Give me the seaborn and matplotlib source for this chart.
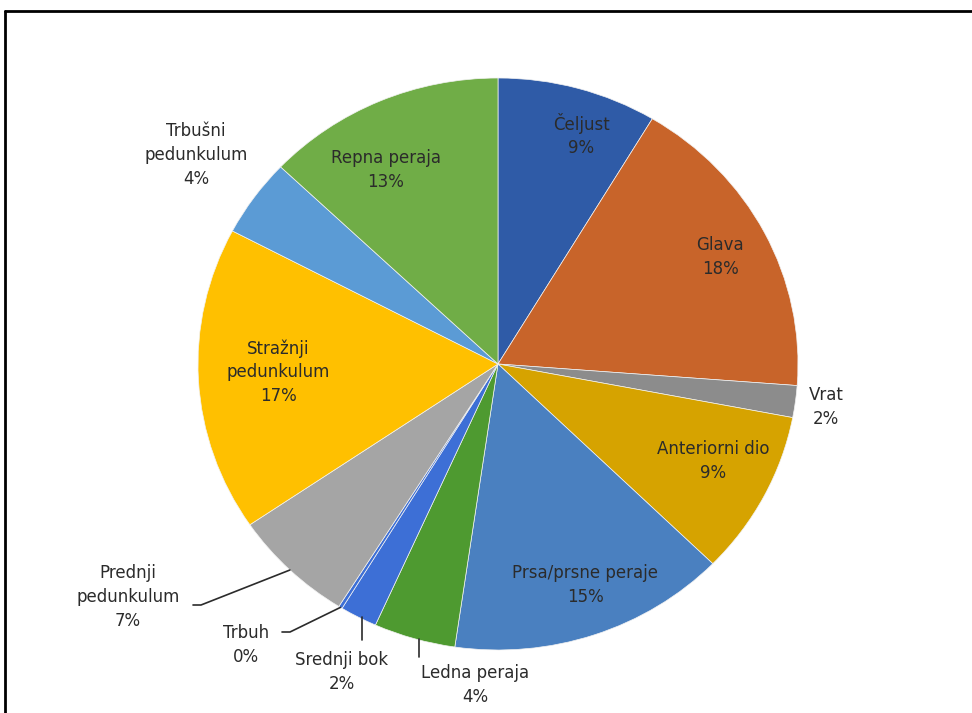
import numpy as np
import matplotlib.pyplot as plt
import seaborn as sns
from matplotlib.lines import Line2D

sns.set_theme(style='white')
plt.rcParams['font.family'] = ['DejaVu Sans']

# data, clockwise from 12 o'clock
parts = ['Čeljust', 'Glava', 'Vrat', 'Anteriorni dio', 'Prsa/prsne peraje',
         'Ledna peraja', 'Srednji bok', 'Trbuh', 'Prednji\npedunkulum',
         'Stražnji\npedunkulum', 'Trbušni\npedunkulum', 'Repna peraja']
shares = [8.6, 17.6, 1.8, 9.3, 15.0, 4.4, 2.0, 0.2, 6.6, 17.2, 4.4, 12.9]
colors = ['#2F5BA7', '#C8642A', '#8C8C8C', '#D6A300', '#4A80C0', '#4E9A30',
          '#3D6FD6', '#3D6FD6', '#A5A5A5', '#FFC000', '#5B9BD5', '#70AD47']

# label centres in pixels of the 972x713 image
label_px = [(581, 135), (720, 257), (826, 407), (713, 461), (585, 585),
            (475, 685), (342, 672), (246, 645), (128, 597), (278, 372),
            (196, 155), (386, 170)]
# leader line start points (pixels)
leader_px = {5: (419, 657), 6: (362, 640), 7: (282, 632), 8: (193, 605)}

W, H = 972, 713
cx, cy, rx, ry = 498, 364, 300, 286

fig = plt.figure(figsize=(W / 100, H / 100), dpi=100)
ax = fig.add_axes([(cx - rx) / W, (H - cy - ry) / H, 2 * rx / W, 2 * ry / H])

wedges, _ = ax.pie(shares, colors=colors, startangle=90, counterclock=False,
                   radius=1, wedgeprops=dict(edgecolor='#f2f2f2', linewidth=0.5))
ax.set_aspect('auto')
ax.set_xlim(-1, 1)
ax.set_ylim(-1, 1)
ax.axis('off')


def to_ax(px, py):
    return (px - cx) / rx, (cy - py) / ry


total = sum(shares)
cum = np.cumsum([0] + shares)
for i, (name, val) in enumerate(zip(parts, shares)):
    u, v = to_ax(*label_px[i])
    ax.text(u, v, f'{name}\n{round(val / total * 100):.0f}%', ha='center', va='center',
            fontsize=12, color='#2b2b2b', linespacing=1.4, clip_on=False)
    if i in leader_px:
        mid = np.deg2rad((cum[i] + cum[i + 1]) / 2 / total * 360)
        eu, ev = np.sin(mid), np.cos(mid)
        su, sv = to_ax(*leader_px[i])
        if i in (7, 8):
            ku = su + 8 / rx
            ax.plot([su, ku, eu], [sv, sv, ev], color='#2b2b2b', lw=1.2, clip_on=False)
        else:
            ax.plot([su, su], [sv, ev], color='#2b2b2b', lw=1.2, clip_on=False)

# chart frame (top and left edges visible)
fig.add_artist(Line2D([5 / W, 5 / W], [0, 1 - 11 / H], color='black', lw=2))
fig.add_artist(Line2D([5 / W, 1], [1 - 11 / H, 1 - 11 / H], color='black', lw=2))

fig.savefig('out.png', dpi=100)
